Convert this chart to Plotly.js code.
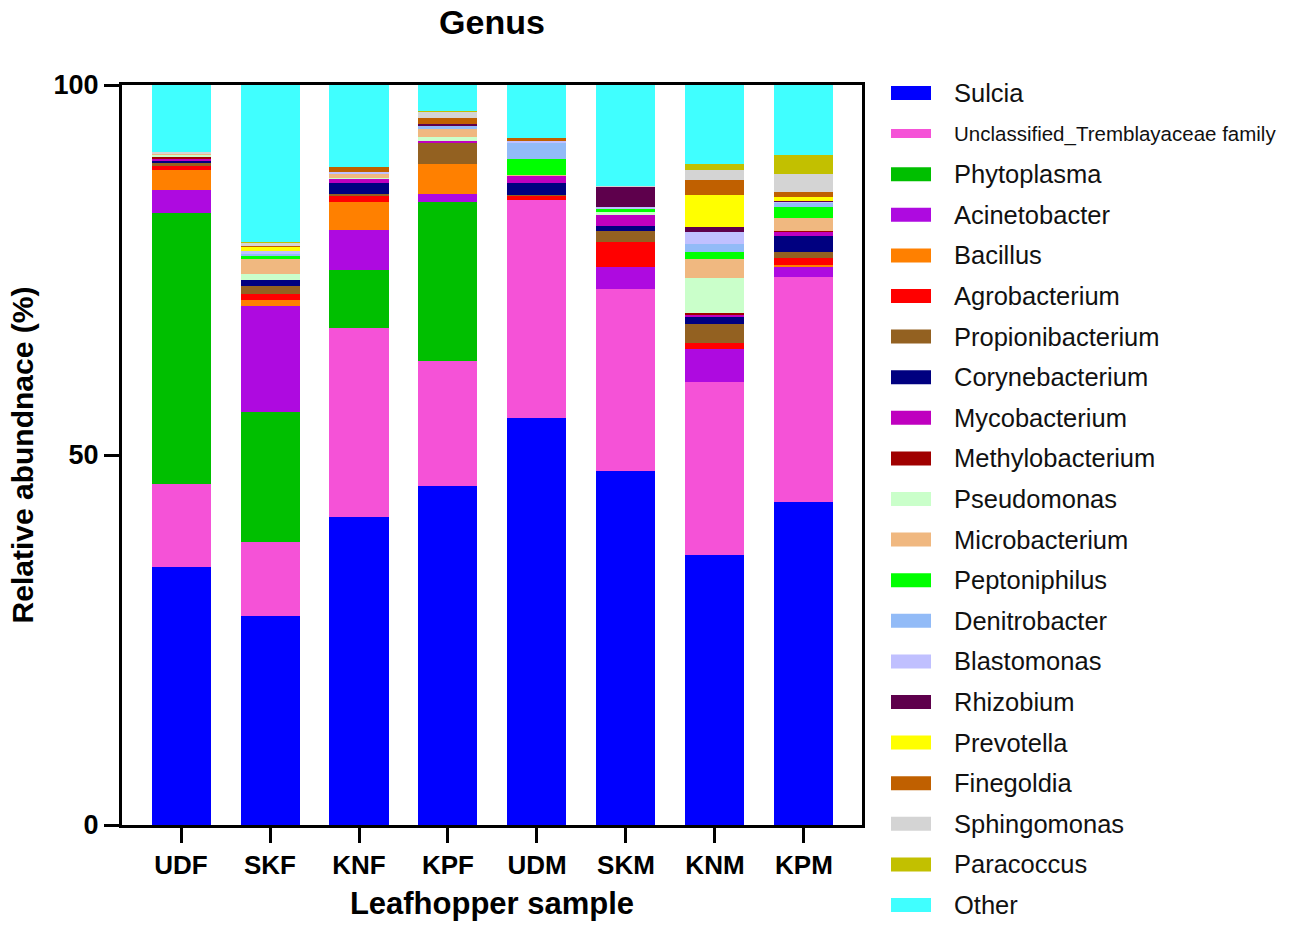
<!DOCTYPE html>
<html>
<head>
<meta charset="utf-8">
<script src="https://cdn.plot.ly/plotly-3.0.1.min.js"></script>
<style>
html,body{margin:0;padding:0;background:#fff;}
#chart{width:1296px;height:926px;}
</style>
</head>
<body>
<div id="chart"></div>
<script>
// Samples (x categories)
const samples = ['UDF','SKF','KNF','KPF','UDM','SKM','KNM','KPM'];

// Relative abundance (%) per genus
const sulcia            = [34.9, 28.2, 41.6, 45.8, 55.0, 47.9, 36.5, 43.7];
const unclassified      = [11.2, 10.0, 25.6, 16.9, 29.5, 24.5, 23.3, 30.4];
const phytoplasma       = [36.6, 17.6,  7.8, 21.5,  0,    0,    0,    0  ];
const acinetobacter     = [ 3.1, 14.4,  5.4,  1.1,  0,    3.0,  4.5,  1.3];
const bacillus          = [ 2.7,  0.8,  3.8,  4.0,  0,    0,    0,    0.3];
const agrobacterium     = [ 0.6,  0.7,  0.8,  0,    0.5,  3.4,  0.8,  0.9];
const propionibacterium = [ 0.3,  1.1,  0.3,  2.9,  0.2,  1.5,  2.6,  0.8];
const corynebacterium   = [ 0.3,  0.8,  1.5,  0,    1.6,  0.7,  0.9,  2.2];
const mycobacterium     = [ 0.3,  0.05, 0.5,  0.2,  0.9,  1.4,  0.3,  0.5];
const methylobacterium  = [ 0.3,  0.05, 0,    0,    0,    0,    0.3,  0.2];
const pseudomonas       = [ 0.2,  0.8,  0.2,  0.6,  0,    0.4,  4.7,  0  ];
const microbacterium    = [ 0.2,  2.0,  0.5,  1.0,  0.2,  0,    2.6,  1.7];
const peptoniphilus     = [ 0,    0.4,  0,    0,    2.1,  0.5,  0.9,  1.5];
const denitrobacter     = [ 0,    0.3,  0,    0.5,  2.2,  0,    1.1,  0.5];
const blastomonas       = [ 0,    0.4,  0.3,  0,    0.2,  0.2,  1.7,  0.2];
const rhizobium         = [ 0,    0,    0,    0.2,  0,    2.7,  0.6,  0.1];
const prevotella        = [ 0,    0.5,  0,    0,    0,    0,    4.4,  0.5];
const finegoldia        = [ 0,    0.2,  0.6,  0.8,  0.5,  0,    2.0,  0.8];
const sphingomonas      = [ 0.3,  0.3,  0,    0.8,  0,    0.2,  1.3,  2.4];
const paracoccus        = [ 0,    0.2,  0,    0.2,  0,    0,    0.8,  2.5];
const other             = [ 9.0, 21.2, 11.1,  3.5,  7.1, 13.6, 10.7,  9.5];

// Genus names (legend labels), bottom-to-top stacking order
const genera = ['Sulcia','Unclassified_Tremblayaceae family','Phytoplasma','Acinetobacter','Bacillus',
  'Agrobacterium','Propionibacterium','Corynebacterium','Mycobacterium','Methylobacterium',
  'Pseudomonas','Microbacterium','Peptoniphilus','Denitrobacter','Blastomonas','Rhizobium',
  'Prevotella','Finegoldia','Sphingomonas','Paracoccus','Other'];

const series = [sulcia, unclassified, phytoplasma, acinetobacter, bacillus, agrobacterium,
  propionibacterium, corynebacterium, mycobacterium, methylobacterium, pseudomonas,
  microbacterium, peptoniphilus, denitrobacter, blastomonas, rhizobium, prevotella,
  finegoldia, sphingomonas, paracoccus, other];

const colors = ['#0000FF','#F552D7','#00BF00','#AE0AE0','#FF8000','#FF0000','#936121',
  '#000080','#BF00BF','#A00000','#CAFFCA','#F0B880','#00FF00','#92BBF7','#C0C0FF',
  '#5E004C','#FFFF00','#C06000','#D4D4D4','#C2C000','#40FFFF'];

const FONT = 'Liberation Sans, Arial, sans-serif';

const traces = genera.map((g, i) => ({
  type: 'bar',
  name: g,
  x: samples,
  y: series[i],
  marker: {color: colors[i], line: {width: 0}},
  showlegend: false,
  hoverinfo: 'name+y'
}));

// Manual legend (rect swatch + label) built from genera/colors
const L = 122, T = 85, W = 740, H = 740;
const px2x = p => (p - L) / W;
const py2y = p => (T + H - p) / H;
const shapes = [];
const annotations = [];
genera.forEach((g, i) => {
  const cy = 93 + i * 40.6;
  const hh = (i === 1) ? 4.5 : 7;
  shapes.push({type: 'rect', xref: 'paper', yref: 'paper',
    x0: px2x(891), x1: px2x(931), y0: py2y(cy + hh), y1: py2y(cy - hh),
    fillcolor: colors[i], line: {width: 0}});
  annotations.push({xref: 'paper', yref: 'paper', x: px2x(952), y: py2y(cy),
    xanchor: 'left', yanchor: 'middle', showarrow: false, text: g,
    font: {family: FONT, size: (i === 1) ? 20.5 : 25.5, color: '#111'}});
});

const layout = {
  width: 1296, height: 926,
  margin: {l: L, r: 1296 - L - W, t: T, b: 926 - T - H},
  paper_bgcolor: '#fff', plot_bgcolor: '#fff',
  barmode: 'stack',
  bargap: 0.337,
  showlegend: false,
  title: {text: '<b>Genus</b>', x: (L + W/2) / 1296, xanchor: 'center', y: 1 - 22/926, yanchor: 'middle',
    font: {family: FONT, size: 34, color: '#000'}},
  xaxis: {
    type: 'category', range: [-0.663, 7.652],
    showline: true, linecolor: '#000', linewidth: 3, mirror: true,
    ticks: 'outside', ticklen: 15, tickwidth: 3, tickcolor: '#000',
    tickfont: {family: FONT, size: 26, color: '#000', weight: 'bold'},
    showgrid: false, zeroline: false,
    title: {text: '<b>Leafhopper sample</b>', standoff: 14, font: {family: FONT, size: 31, color: '#000'}}
  },
  yaxis: {
    range: [0, 100], tickvals: [0, 50, 100], ticktext: ['0','50','100'],
    showline: true, linecolor: '#000', linewidth: 3, mirror: true,
    ticks: 'outside', ticklen: 15, tickwidth: 3, tickcolor: '#000',
    tickfont: {family: FONT, size: 27, color: '#000', weight: 'bold'},
    showgrid: false, zeroline: false,
    title: {text: '<b>Relative abundnace (%)</b>', standoff: 12, font: {family: FONT, size: 30, color: '#000'}}
  },
  shapes: shapes,
  annotations: annotations
};

Plotly.newPlot('chart', traces, layout, {displayModeBar: false, staticPlot: true});
</script>
</body>
</html>
